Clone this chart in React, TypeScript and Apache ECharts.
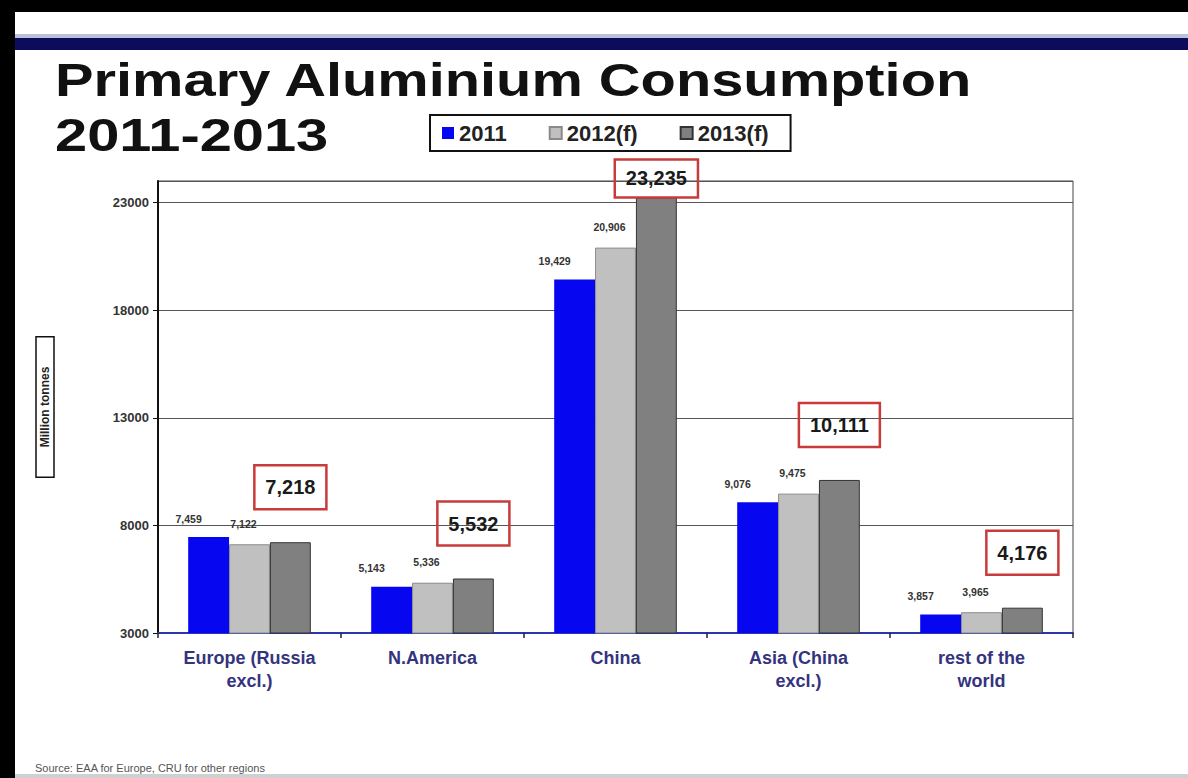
import React, { useEffect, useRef } from "react";
import * as echarts from "echarts";

const categories = [
  "Europe (Russia\nexcl.)",
  "N.America",
  "China",
  "Asia (China\nexcl.)",
  "rest of the\nworld",
];
const seriesNames = ["2011", "2012(f)", "2013(f)"];
const values2011 = [7459, 5143, 19429, 9076, 3857];
const values2012 = [7122, 5336, 20906, 9475, 3965];
const values2013 = [7218, 5532, 23235, 10111, 4176];
const yMin = 3000;
const yMax = 24000;
const yStep = 5000;
const titleLine1 = "Primary Aluminium Consumption";
const titleLine2 = "2011-2013";
const yAxisTitle = "Million tonnes";
const sourceText = "Source: EAA for Europe, CRU for other regions";

const FONT = "'Liberation Sans', Arial, Helvetica, sans-serif";
const fmt = (v: number) => v.toLocaleString("en-US");

export default function App() {
  const ref = useRef<HTMLDivElement>(null);

  useEffect(() => {
    if (!ref.current) return;
    const chart = echarts.init(ref.current, undefined, { renderer: "svg" });

    const smallLabel = {
      show: true,
      position: "top" as const,
      formatter: (p: any) => fmt(p.value as number),
      fontSize: 10.5,
      fontWeight: "bold" as const,
      color: "#333",
      fontFamily: FONT,
    };

    const option: any = {
      animation: false,
      backgroundColor: "#ffffff",
      textStyle: { fontFamily: FONT },
      grid: {
        left: 158,
        right: 115,
        top: 181,
        bottom: 145,
        show: true,
        borderColor: "#444",
        borderWidth: 1,
        backgroundColor: "transparent",
      },
      legend: {
        data: seriesNames,
        left: 430,
        top: 115,
        orient: "horizontal",
        icon: "rect",
        itemWidth: 12,
        itemHeight: 12,
        itemGap: 42,
        padding: [7, 22, 7, 12],
        borderColor: "#111",
        borderWidth: 2,
        backgroundColor: "#ffffff",
        textStyle: {
          fontSize: 22,
          fontWeight: "bold",
          color: "#222",
          fontFamily: FONT,
        },
      },
      xAxis: {
        type: "category",
        data: categories,
        axisLine: { show: true, lineStyle: { color: "#2b35b0", width: 2 } },
        axisTick: { show: true, length: 5, lineStyle: { color: "#222", width: 1.5 } },
        axisLabel: {
          interval: 0,
          color: "#34347e",
          fontSize: 18,
          fontWeight: "bold",
          lineHeight: 23,
          margin: 13,
          fontFamily: FONT,
        },
      },
      yAxis: {
        type: "value",
        min: yMin,
        max: yMax,
        interval: yStep,
        name: yAxisTitle,
        nameLocation: "middle",
        nameRotate: 90,
        nameGap: 104,
        nameTextStyle: {
          fontSize: 12,
          fontWeight: "bold",
          color: "#222",
          borderColor: "#111",
          borderWidth: 1.5,
          padding: [3, 30],
          fontFamily: FONT,
        },
        axisLine: { show: true, lineStyle: { color: "#111", width: 2 } },
        axisTick: { show: true, length: 5, lineStyle: { color: "#111" } },
        axisLabel: {
          color: "#333",
          fontSize: 13,
          fontWeight: "bold",
          margin: 9,
          showMaxLabel: false,
          formatter: (v: number) => String(v),
          fontFamily: FONT,
        },
        splitLine: { show: true, lineStyle: { color: "#555", width: 1 } },
      },
      series: [
        {
          name: seriesNames[0],
          type: "bar",
          data: values2011,
          barGap: "0%",
          barCategoryGap: "33%",
          itemStyle: { color: "#0606f0" },
          label: { ...smallLabel, offset: [-20, -8] },
        },
        {
          name: seriesNames[1],
          type: "bar",
          data: values2012,
          barGap: "0%",
          barCategoryGap: "33%",
          itemStyle: { color: "#c0c0c0", borderColor: "#8a8a8a", borderWidth: 1 },
          label: { ...smallLabel, offset: [-6, -10] },
        },
        {
          name: seriesNames[2],
          type: "bar",
          data: values2013.map((v) =>
            v > yMax - 2000 ? { value: v, label: { distance: 0, padding: [9, 11] } } : v
          ),
          barGap: "0%",
          barCategoryGap: "33%",
          itemStyle: { color: "#808080", borderColor: "#333", borderWidth: 1 },
          label: {
            show: true,
            position: "top",
            distance: 33,
            formatter: (p: any) => fmt(p.value as number),
            fontSize: 20,
            fontWeight: "bold",
            color: "#1a1a1a",
            borderColor: "#c83b3b",
            borderWidth: 2.5,
            padding: [12, 11],
            fontFamily: FONT,
          },
        },
      ],
      graphic: [
        { type: "rect", shape: { x: 0, y: 0, width: 1188, height: 12 }, style: { fill: "#000" }, z: 100 },
        { type: "rect", shape: { x: 0, y: 0, width: 15, height: 778 }, style: { fill: "#000" }, z: 100 },
        { type: "rect", shape: { x: 15, y: 34, width: 1173, height: 4 }, style: { fill: "#b9c2dc" }, z: 100 },
        { type: "rect", shape: { x: 15, y: 38, width: 1173, height: 12 }, style: { fill: "#0c0c5a" }, z: 100 },
        { type: "rect", shape: { x: 15, y: 774, width: 1173, height: 4 }, style: { fill: "#d0d0d0" }, z: 100 },
        {
          type: "text",
          x: 55,
          y: 56,
          scaleX: 1.23,
          style: {
            text: titleLine1,
            fill: "#111",
            fontSize: 47,
            fontWeight: "bold",
            fontFamily: FONT,
            verticalAlign: "top",
          },
          z: 100,
        },
        {
          type: "text",
          x: 55,
          y: 111,
          scaleX: 1.23,
          style: {
            text: titleLine2,
            fill: "#111",
            fontSize: 47,
            fontWeight: "bold",
            fontFamily: FONT,
            verticalAlign: "top",
          },
          z: 100,
        },
        {
          type: "text",
          x: 35,
          y: 768,
          style: {
            text: sourceText,
            fill: "#555",
            fontSize: 11,
            fontFamily: FONT,
            verticalAlign: "middle",
          },
          z: 100,
        },
      ],
    };

    chart.setOption(option);
    return () => {
      chart.dispose();
    };
  }, []);

  return (
    <div
      ref={ref}
      style={{ position: "fixed", left: 0, top: 0, width: 1188, height: 778, background: "#fff" }}
    />
  );
}
